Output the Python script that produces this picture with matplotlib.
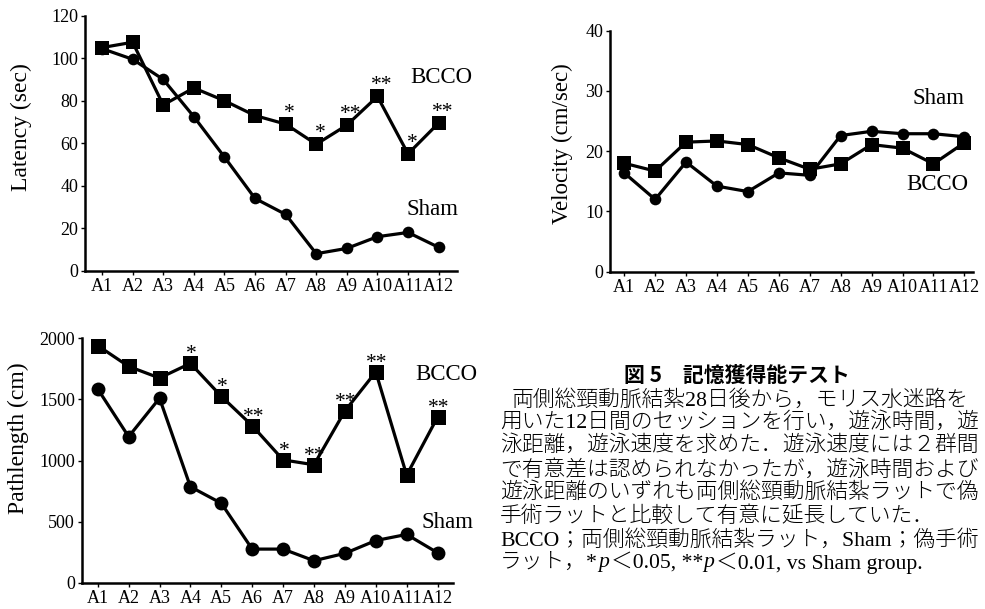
import matplotlib
matplotlib.use('Agg')
import matplotlib.pyplot as plt

W, H = 985, 609

sessions = ['A1', 'A2', 'A3', 'A4', 'A5', 'A6', 'A7', 'A8', 'A9', 'A10', 'A11', 'A12']

# 遊泳時間 (sec)
latency_bcco = [105, 107.5, 78, 86, 80, 73, 69, 59.5, 68.5, 82, 55, 69.5]
latency_sham = [104.5, 99.5, 90, 72.5, 53.5, 34, 26.5, 8, 10.5, 16, 18, 11]
latency_sig = ['', '', '', '', '', '', '*', '*', '**', '**', '*', '**']

# 遊泳速度 (cm/sec)
velocity_bcco = [18.0, 16.7, 21.5, 21.7, 21.1, 18.9, 17.0, 17.9, 21.1, 20.5, 17.9, 21.4]
velocity_sham = [16.4, 12.0, 18.2, 14.2, 13.3, 16.4, 16.0, 22.6, 23.3, 22.9, 22.9, 22.4]

# 遊泳距離 (cm)
path_bcco = [1940, 1770, 1675, 1795, 1525, 1285, 1005, 965, 1405, 1725, 880, 1355]
path_sham = [1585, 1195, 1510, 785, 650, 275, 275, 180, 240, 345, 395, 245]
path_sig = ['', '', '', '*', '*', '**', '*', '**', '**', '**', '', '**']

caption_title = '図 5　記憶獲得能テスト'
caption_lines = [
    '両側総頸動脈結紮28日後から，モリス水迷路を',
    '用いた12日間のセッションを行い，遊泳時間，遊',
    '泳距離，遊泳速度を求めた．遊泳速度には２群間',
    'で有意差は認められなかったが，遊泳時間および',
    '遊泳距離のいずれも両側総頸動脈結紮ラットで偽',
    '手術ラットと比較して有意に延長していた．',
    'BCCO；両側総頸動脈結紮ラット，Sham；偽手術',
]
caption_last = [('ラット，*', 'normal'), ('p', 'italic'), ('＜0.05, **', 'normal'),
                ('p', 'italic'), ('＜0.01, vs Sham group.', 'normal')]

plt.rcParams['font.family'] = ['Liberation Serif']
serif_jp = ['Liberation Serif', 'Noto Sans CJK JP']

fig = plt.figure(figsize=(W / 100, H / 100), dpi=100)


def px_rect(x0, y0, x1, y1):
    # pixel box (top-left origin) -> figure fraction rect
    return [x0 / W, 1 - y1 / H, (x1 - x0) / W, (y1 - y0) / H]


def make_axes(rect, xlim, ylim, yticks, ylabel, label_xy, label_size=17):
    ax = fig.add_axes(rect)
    ax.spines[['top', 'right']].set_visible(False)
    ax.spines[['left', 'bottom']].set_linewidth(1.8)
    ax.set_xlim(xlim)
    ax.set_ylim(ylim)
    ax.set_xticks(range(len(sessions)), sessions)
    ax.set_yticks(yticks)
    ax.tick_params(direction='out', length=3, width=1, labelsize=13, pad=2)
    fig.text(label_xy[0] / W, 1 - label_xy[1] / H, ylabel, rotation=90,
             ha='center', va='center', fontsize=label_size)
    return ax


def draw_pair(ax, bcco, sham, sq, circ, lw):
    x = range(len(sessions))
    ax.plot(x, sham, color='black', lw=lw, marker='o', ms=circ, mew=0, clip_on=False)
    ax.plot(x, bcco, color='black', lw=lw, marker='s', ms=sq, mew=0, clip_on=False)


def draw_sig(ax, values, marks, dx, dy):
    for i, (v, m) in enumerate(zip(values, marks)):
        if m:
            ax.annotate(m, (i, v), xytext=(dx, dy), textcoords='offset pixels',
                        ha='center', va='baseline', fontsize=15.5)


# Latency
ax1 = make_axes(px_rect(85, 15.7, 457, 270.7), (-0.556, 11.6), (0, 120),
                range(0, 121, 20), 'Latency (sec)', (21, 127))
draw_pair(ax1, latency_bcco, latency_sham, 9.4, 8.4, 2.3)
draw_sig(ax1, latency_bcco, latency_sig, 4, 6)
ax1.text(11.1, 91, 'BCCO', fontsize=16.5, ha='center', va='center')
ax1.text(10.8, 28.6, 'Sham', fontsize=16.5, ha='center', va='center')

# Velocity
ax2 = make_axes(px_rect(610, 30.7, 973, 271.7), (-0.46, 11.28), (0, 40),
                range(0, 41, 10), 'Velocity (cm/sec)', (562, 144), label_size=16.5)
draw_pair(ax2, velocity_bcco, velocity_sham, 9.4, 8.4, 2.3)
ax2.text(10.17, 28.7, 'Sham', fontsize=16.5, ha='center', va='center')
ax2.text(10.12, 14.4, 'BCCO', fontsize=16.5, ha='center', va='center')

# Pathlength
ax3 = make_axes(px_rect(82, 338.3, 453, 582.7), (-0.51, 11.5), (0, 2000),
                range(0, 2001, 500), 'Pathlength (cm)', (18, 438))
draw_pair(ax3, path_bcco, path_sham, 10.8, 10, 2.3)
draw_sig(ax3, path_bcco, path_sig, 1, 4)
ax3.text(11.29, 1700, 'BCCO', fontsize=16.5, ha='center', va='center')
ax3.text(11.32, 489, 'Sham', fontsize=16.5, ha='center', va='center')

# Caption block
fig.text(737 / W, 1 - 375 / H, caption_title, family=['Noto Sans CJK JP'],
         weight='bold', fontsize=15, ha='center', va='center')
line_y = [400, 423, 446, 470, 493, 517, 540]
for k, (s, y) in enumerate(zip(caption_lines, line_y)):
    x0 = 512 if k == 0 else 500
    fig.text(x0 / W, 1 - y / H, s, family=serif_jp, weight='light',
             fontsize=15.7, va='center')

renderer = fig.canvas.get_renderer()
x = 500
for s, st in caption_last:
    t = fig.text(x / W, 1 - 563 / H, s, family=serif_jp, style=st, weight='light',
                 fontsize=15.7, va='center')
    x += t.get_window_extent(renderer).width + (2 if st == 'italic' else 0)

fig.savefig('out.png', dpi=100)
